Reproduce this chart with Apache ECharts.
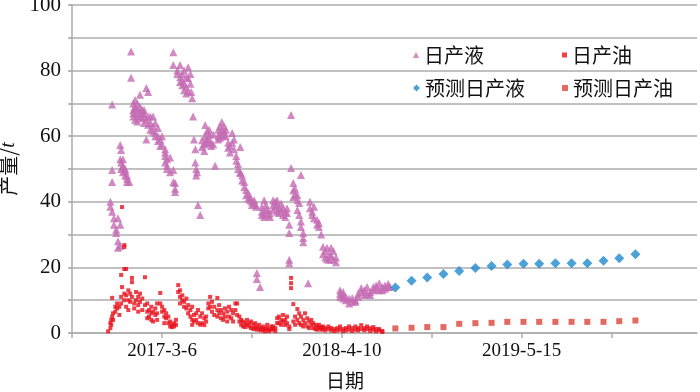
<!DOCTYPE html>
<html>
<head>
<meta charset="utf-8">
<script src="https://cdn.jsdelivr.net/npm/echarts@6/dist/echarts.min.js"></script>
<style>
    html, body { margin: 0; padding: 0; background: #fff; }
    #chart { width: 700px; height: 392px; }
</style>
</head>
<body>
<div id="chart"></div>
<script>
// x values are days counted from 2016-8-18
const baseDate = [2016, 8, 18];
const xTickDays = [0, 200, 400, 600, 800, 1000, 1200];
const xLabelDays = [200, 600, 1000];

// 日产液: [day, values on that day]
const liquidRaw = [
    [85, [38.5, 40]], [89, [37, 46, 49.7, 69.7]], [93, [35, 33]], [98, [31.5, 30.5]],
    [102, [28, 26, 35]], [107, [26.5, 33, 53, 57.3]], [109, [55.8, 52, 50]], [113, [53, 50.6, 49, 51]],
    [118, [50, 48, 49.5]], [122, [46, 48, 47]], [127, [46]], [131, [85.8, 77.8]],
    [136, [70, 68, 66, 67]], [140, [69, 67, 65, 68.5, 71]], [145, [68, 66, 64.5, 70]], [151, [72.6, 69, 66, 67.5]],
    [156, [68, 65.5, 67]], [160, [66, 64, 67, 68]], [165, [74.7, 65, 59]], [169, [73.5, 63.5, 66]],
    [174, [66, 64, 62]], [180, [66, 63, 61.5]], [185, [64, 61, 60]], [191, [62.5, 60, 58.5]],
    [196, [59, 57]], [200, [60, 57.5]], [207, [56, 54, 52, 55]], [211, [53, 51, 50]],
    [218, [53.5, 49]], [225, [49.7, 46, 85.6, 81.7]], [229, [45.7, 43, 44]], [234, [79, 80]],
    [240, [81.7, 78, 76.5]], [245, [79, 77, 75.5]], [249, [80, 76, 74]], [254, [78, 75, 73]],
    [258, [81, 77.7, 73.6]], [263, [79, 76]], [265, [73.5]], [267, [71.6]],
    [269, [66]], [271, [59]], [274, [56, 52]], [276, [50, 48]], [278, [49]], [280, [39]], [285, [36]],
    [289, [58.8, 56.7]], [294, [57.5, 55.5]], [296, [63.4, 60, 58]], [300, [61.5, 59, 58]],
    [305, [62, 60.5, 59]], [309, [58, 57]], [314, [60.5, 57.5]], [318, [51]],
    [325, [62, 60, 59]], [329, [63, 61, 59.5]], [333, [64.3, 62, 60]], [338, [63, 61.5, 60.5]],
    [342, [62, 60]], [347, [58, 56.5]], [351, [57, 55]], [356, [61, 58]], [360, [59, 56]],
    [365, [54, 52.5]], [369, [51.5, 50]], [374, [56.7, 49, 48.8]], [378, [48, 46.5]],
    [383, [46, 44.5]], [387, [43.6, 42]], [392, [42.5, 41]], [396, [40.5, 41.5]],
    [400, [40, 39]], [405, [40.5, 39.5]], [409, [39, 38.5]], [411, [18.3, 16.5]], [418, [14]],
    [422, [38.4, 37, 36]], [427, [40.5, 36.5, 35.4]], [431, [39, 37.5]], [436, [37.5, 36]],
    [440, [36.5, 35.4]], [447, [40.5, 39, 37.5]], [452, [40, 38.5]], [456, [39, 37, 40.5]],
    [460, [38, 36.6]], [465, [39.5, 37.5]], [469, [38, 36]], [474, [35.4, 37]], [478, [36.6, 38]],
    [483, [33, 30.5, 22.3, 21.3]], [487, [50.3, 66.5]], [492, [45.7, 43.5, 41.5]], [496, [44, 42]],
    [501, [42, 40.5, 37.5]], [505, [39.6, 36]], [509, [48.2, 34, 32.3]], [514, [30.5, 29, 27.7]],
    [525, [15.2]], [529, [40, 38]], [534, [37, 36]], [538, [38.5, 35]], [545, [34.5, 33]],
    [549, [33.5, 32.3]], [554, [30]], [558, [26.3, 24]], [563, [25, 23]], [567, [26, 22.5]],
    [572, [24, 22.3]], [576, [26, 23.5]], [581, [25, 22.3]], [587, [21.6, 23]],
    [596, [12, 11, 13]], [603, [10.5, 11.5, 12.5]], [609, [10, 11]], [616, [9, 10.5]],
    [623, [9.5, 10.7]], [630, [10, 9.5]], [636, [12, 11]], [643, [12.5, 13.7]], [650, [11.6, 13]],
    [656, [14, 12]], [663, [12.5, 11.6]], [670, [13, 14]], [676, [14.5, 13.5]], [683, [15.2, 13]],
    [690, [14, 13]], [696, [14.5, 13.5]], [703, [15, 14]], [707, [14]]
];

// 日产油
const oilRaw = [
    [80, [0.5]], [85, [1.5, 3]], [87, [2.5, 4]], [89, [5, 10.7]], [91, [4, 6]], [96, [6.5, 8]],
    [100, [7.5, 9]], [105, [5.5, 8]], [109, [11, 9, 17.7]], [111, [14, 38.4]],
    [116, [26.8, 26.2, 19.5, 12, 10]], [120, [19.5, 8, 11.5]], [125, [13, 10, 7]], [129, [12, 9.5]],
    [133, [16.8, 15.5, 11]], [138, [9, 7.5]], [142, [12.5, 10]], [147, [11, 8.5, 6.5]],
    [151, [12, 9.5]], [156, [10.5, 7]], [162, [17, 8.5]], [167, [9, 6.5, 4.5]], [171, [7, 5]],
    [176, [8, 6, 4]], [180, [6.5, 3.5]], [185, [7.5, 5.5]], [189, [9, 6, 4]], [196, [12.2, 9]],
    [200, [8, 6.5]], [205, [7, 5, 3]], [209, [6, 4.5]], [214, [5, 3]], [218, [3.5, 2]],
    [222, [2.5, 1.8]], [227, [3, 2]], [231, [4, 2.5]], [236, [14.6, 12.5]], [240, [13, 11, 9]],
    [245, [11.5, 10]], [249, [9.5, 8]], [254, [10.5, 7.5]], [258, [8.5, 6]], [263, [7, 5]],
    [267, [8, 4, 2.5]], [271, [5.5, 3.5]], [276, [6, 4]], [280, [7, 3]], [285, [5, 2.5]],
    [289, [6, 3]], [294, [4.5, 2.4]], [298, [3.5, 5]], [303, [9, 7.5]], [307, [11, 8]],
    [311, [9.5, 6.5]], [316, [8, 5.5]], [323, [10.7, 7, 5]], [327, [8.5, 6]], [331, [7, 4.5]],
    [336, [6, 4]], [340, [7.5, 5]], [345, [6.5, 3.5]], [349, [5, 8]], [354, [7, 4.5]],
    [358, [6, 3.5]], [363, [9, 7]], [367, [9, 5.5]], [372, [5, 3.5]], [376, [4, 2.5]],
    [380, [3.5, 2]], [385, [3, 1.8]], [389, [2.5, 4]], [394, [2, 3]], [398, [3.5, 1.5]],
    [403, [2.5, 1.2]], [407, [1.5, 3]], [411, [1, 2]], [416, [2.5, 1.2]], [420, [1.5, 0.8]],
    [425, [2, 1]], [429, [1.2, 0.5]], [434, [1.5, 2.5]], [438, [1, 0.6]], [443, [2, 1.2]],
    [447, [1, 2]], [452, [1.5, 0.6]], [456, [3, 4.5]], [460, [5, 3]], [465, [4, 2.5]],
    [469, [5.5, 3.5]], [474, [4, 2.4]], [478, [3, 5]], [483, [2, 1.2]], [487, [16.8, 15.2, 13.7]],
    [492, [8.8, 3.5]], [496, [5, 2.5]], [501, [7.3, 4]], [505, [6, 3]], [509, [5, 2.5]],
    [514, [4, 2]], [518, [6, 3]], [523, [4.5, 2]], [527, [3.5, 1.5]], [532, [4, 2.5]],
    [536, [3, 1.5]], [541, [2.5, 1.2]], [545, [2, 1]], [549, [2.5, 1.5]], [554, [1.8, 1]],
    [558, [1.2, 2]], [563, [1.5, 0.8]], [570, [1.2, 2]], [576, [0.8, 1.5]], [583, [1.2, 0.6]],
    [590, [1.5, 0.8]], [596, [2, 1]], [603, [1.2, 0.5]], [609, [1.5, 0.8]], [616, [2, 1]],
    [623, [1.5, 0.6]], [630, [1, 2]], [636, [1.5, 0.8]], [643, [2.4, 1.2]], [650, [1.5, 0.8]],
    [656, [1.2, 2]], [663, [1.5, 0.6]], [670, [1, 1.8]], [676, [1.2, 0.5]], [683, [0.8, 1.2]],
    [690, [0.3, 0.6]]
];

// 预测
const predDays = [719, 755, 790, 826, 861, 897, 933, 968, 1004, 1039, 1075, 1111, 1146, 1182, 1217, 1253];
const predLiquid = [13.9, 15.9, 16.9, 18.0, 18.9, 19.8, 20.4, 20.9, 21.1, 21.1, 21.3, 21.3, 21.3, 22.0, 22.8, 24.0];
const predOil = [1.4, 1.6, 1.8, 1.8, 2.8, 3.0, 3.1, 3.4, 3.4, 3.4, 3.4, 3.4, 3.4, 3.4, 3.6, 3.8];

function expand(raw) {
    let out = [];
    raw.forEach(item => {
        item[1].forEach(v => out.push([item[0], v]));
    });
    return out;
}

function dayLabel(d) {
    const dt = new Date(baseDate[0], baseDate[1] - 1, baseDate[2] + d);
    return dt.getFullYear() + '-' + (dt.getMonth() + 1) + '-' + dt.getDate();
}

const serif = 'Liberation Serif';
const cjk = 'Noto Sans CJK SC';
const gridColor = '#ADADAD';

let chart = echarts.init(document.getElementById('chart'));

const legendText = { fontSize: 20, color: '#111', fontFamily: cjk };
const legendBase = { padding: 0, itemGap: 0, selectedMode: false, textStyle: legendText };
let options = {
    animation: false,
    grid: { left: 69, right: 3, top: 5, bottom: 59, outerBoundsMode: 'none' },
    legend: [
        Object.assign({ data: ['日产液'], left: 413, top: 45, itemWidth: 6, itemHeight: 6 }, legendBase),
        Object.assign({ data: ['日产油'], left: 562, top: 45, itemWidth: 5, itemHeight: 5 }, legendBase),
        Object.assign({ data: ['预测日产液'], left: 413, top: 78, itemWidth: 7, itemHeight: 7 }, legendBase),
        Object.assign({ data: ['预测日产油'], left: 562, top: 78, itemWidth: 6, itemHeight: 6 }, legendBase)
    ],
    xAxis: {
        type: 'value',
        min: -7,
        max: 1390,
        name: '日期',
        nameLocation: 'middle',
        nameGap: 38,
        nameTextStyle: { fontSize: 19, color: '#111', fontFamily: cjk, padding: [0, 76, 0, 0] },
        splitLine: { show: false },
        axisLine: { lineStyle: { color: gridColor, width: 1.5 } },
        axisTick: {
            show: true,
            length: 5,
            customValues: xTickDays,
            lineStyle: { color: gridColor, width: 1.5 }
        },
        axisLabel: {
            customValues: xLabelDays,
            margin: 9,
            fontSize: 19,
            color: '#111',
            fontFamily: serif,
            formatter: v => dayLabel(v)
        }
    },
    yAxis: {
        type: 'value',
        min: 0,
        max: 100,
        interval: 10,
        name: '产量/{i|t}',
        nameLocation: 'middle',
        nameRotate: 90,
        nameGap: 36,
        nameTextStyle: {
            fontSize: 20,
            color: '#111',
            fontFamily: cjk,
            rich: { i: { fontSize: 20, fontStyle: 'italic', fontFamily: serif, color: '#111' } }
        },
        axisLine: { show: true, lineStyle: { color: gridColor, width: 1.5 } },
        axisTick: { show: true, length: 4, lineStyle: { color: gridColor, width: 1.5 } },
        splitLine: { lineStyle: { color: gridColor, width: 1.5 } },
        axisLabel: {
            margin: 8,
            fontSize: 21,
            color: '#111',
            fontFamily: serif,
            formatter: v => (v % 20 === 0 ? v : '')
        }
    },
    series: [
        {
            name: '日产液', type: 'scatter', symbol: 'triangle', symbolSize: 8,
            itemStyle: { color: '#C46BB3' }, data: expand(liquidRaw)
        },
        {
            name: '日产油', type: 'scatter', symbol: 'rect', symbolSize: 4,
            itemStyle: { color: '#E8101C' }, data: expand(oilRaw)
        },
        {
            name: '预测日产液', type: 'scatter', symbol: 'diamond', symbolSize: 10,
            itemStyle: { color: '#2189CF' }, data: predDays.map((d, i) => [d, predLiquid[i]])
        },
        {
            name: '预测日产油', type: 'scatter', symbol: 'rect', symbolSize: 6,
            itemStyle: { color: '#DB4539' }, data: predDays.map((d, i) => [d, predOil[i]])
        }
    ]
};
chart.setOption(options);
</script>
</body>
</html>
